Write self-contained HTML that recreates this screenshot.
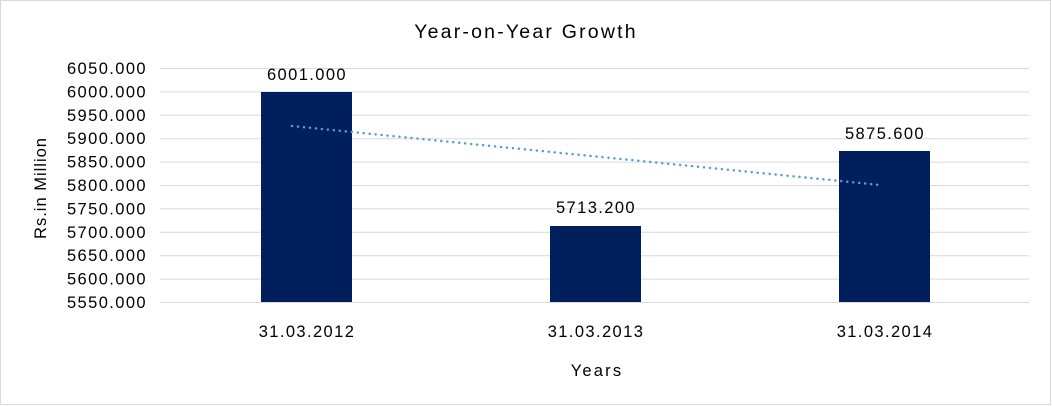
<!DOCTYPE html>
<html><head><meta charset="utf-8"><style>
body{margin:0;background:#fff;}
svg{display:block;font-family:"Liberation Sans",Arial,sans-serif;}
</style></head><body>
<svg width="1052" height="406" xmlns="http://www.w3.org/2000/svg">
<rect x="0.5" y="0.5" width="1050" height="404" fill="#fff" stroke="#d9d9d9"/>
<text x="526" y="38" font-size="19.5" letter-spacing="2.2" text-anchor="middle" fill="#000">Year-on-Year Growth</text>
<g stroke="#d9d9d9" stroke-width="1">
<line x1="160" x2="1029" y1="68.5" y2="68.5"/>
<line x1="160" x2="1029" y1="91.9" y2="91.9"/>
<line x1="160" x2="1029" y1="115.3" y2="115.3"/>
<line x1="160" x2="1029" y1="138.7" y2="138.7"/>
<line x1="160" x2="1029" y1="162.1" y2="162.1"/>
<line x1="160" x2="1029" y1="185.5" y2="185.5"/>
<line x1="160" x2="1029" y1="208.9" y2="208.9"/>
<line x1="160" x2="1029" y1="232.3" y2="232.3"/>
<line x1="160" x2="1029" y1="255.7" y2="255.7"/>
<line x1="160" x2="1029" y1="279.1" y2="279.1"/>
<line x1="160" x2="1029" y1="302.5" y2="302.5"/>
</g>
<g font-size="16.5" letter-spacing="1.4" fill="#000" text-anchor="end">
<text x="147" y="74">6050.000</text>
<text x="147" y="97.4">6000.000</text>
<text x="147" y="120.8">5950.000</text>
<text x="147" y="144.2">5900.000</text>
<text x="147" y="167.6">5850.000</text>
<text x="147" y="191">5800.000</text>
<text x="147" y="214.4">5750.000</text>
<text x="147" y="237.8">5700.000</text>
<text x="147" y="261.2">5650.000</text>
<text x="147" y="284.6">5600.000</text>
<text x="147" y="308">5550.000</text>
</g>
<g fill="#001f5c">
<rect x="261" y="92" width="91" height="210"/>
<rect x="550" y="226" width="91" height="76"/>
<rect x="839" y="151" width="91" height="151"/>
</g>
<line x1="292" y1="126" x2="880" y2="185" stroke="#5b9bd5" stroke-width="2.5" stroke-dasharray="0.1,5.9" stroke-linecap="round"/>
<g font-size="16.5" letter-spacing="1.4" fill="#000" text-anchor="middle">
<text x="307" y="80">6001.000</text>
<text x="596" y="213">5713.200</text>
<text x="885" y="139">5875.600</text>
<text x="307" y="337">31.03.2012</text>
<text x="596" y="337">31.03.2013</text>
<text x="885" y="337">31.03.2014</text>
<text x="597" y="376" letter-spacing="2.2">Years</text>
<text transform="translate(46,188) rotate(-90)" letter-spacing="1">Rs.in Million</text>
</g>
</svg>
</body></html>
